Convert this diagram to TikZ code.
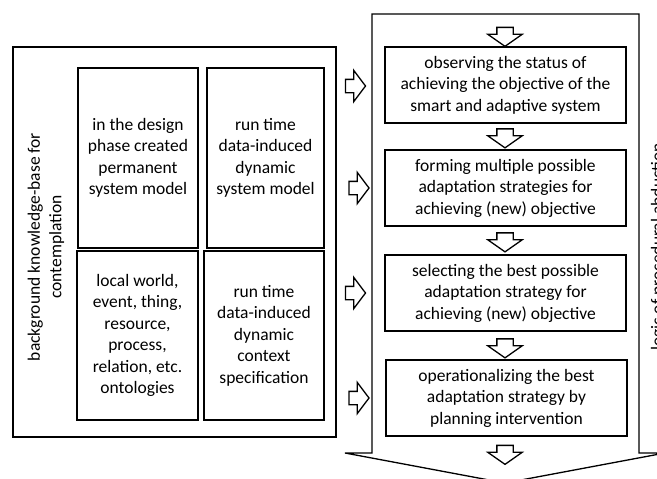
\documentclass[tikz,border=0pt]{standalone}
\usepackage{fontspec}
\setmainfont{Carlito}
\usetikzlibrary{shapes.arrows}

\tikzstyle{box}=[draw,line width=1.7pt,align=center,inner sep=0pt]
\tikzstyle{hollow}=[single arrow,draw,fill=white,line width=1.3pt,inner xsep=0pt,single arrow head extend=9pt,minimum height=#1]
\newcommand{\sidearrow}[2]{\node[hollow=20pt,inner ysep=6pt,single arrow tip angle=106] (#1) at (#2) {};}
\newcommand{\flowarrow}[2]{\node[hollow=19pt,inner ysep=7.5pt,single arrow tip angle=110,rotate=-90] (#1) at (#2) {};}
\tikzset{
	every node/.style={font=\fontsize{17.5}{21.5}\selectfont},
}

\begin{document}
\begin{tikzpicture}[x=1pt,y=-1pt]
    \clip (0,0) rectangle (657,479);

    % knowledge base
    \node[box,line width=1.3pt,minimum width=323pt,minimum height=390pt] (kb) at (174.5,242) {};
    \node[rotate=90,align=center] (kblabel) at (46,247) {background knowledge-base for\\contemplation};
    \node[box,minimum width=120pt,minimum height=180pt] (design) at (138,158) {in the design\\phase created\\permanent\\system model};
    \node[box,minimum width=117pt,minimum height=180pt] (sysmodel) at (265.5,158) {run time\\data-induced\\dynamic\\system model};
    \node[box,minimum width=121pt,minimum height=169pt] (onto) at (137.5,335.5) {local world,\\event, thing,\\resource,\\process,\\relation, etc.\\ontologies};
    \node[box,minimum width=120pt,minimum height=169pt] (context) at (264,335.5) {run time\\data-induced\\dynamic\\context\\specification};

    % procedural abduction
    \draw[line width=1.3pt,fill=white] (372,14) -- (639,14) -- (639,453) -- (665,453) -- (505,483) -- (345,453) -- (372,453) -- cycle;
    \node[rotate=90,anchor=base] (logic) at (663,247) {logic of procedural abduction};
    \node[box,minimum width=241pt,minimum height=76pt] (observe) at (505.5,85) {observing the status of\\achieving the objective of the\\smart and adaptive system};
    \node[box,minimum width=241pt,minimum height=76pt] (form) at (505.5,188) {forming multiple possible\\adaptation strategies for\\achieving (new) objective};
    \node[box,minimum width=241pt,minimum height=76pt] (select) at (505.5,293) {selecting the best possible\\adaptation strategy for\\achieving (new) objective};
    \node[box,minimum width=241pt,minimum height=76pt] (operate) at (506.5,398) {operationalizing the best\\adaptation strategy by\\planning intervention};

    \flowarrow{f0}{505,34}
    \flowarrow{f1}{505,135.5}
    \flowarrow{f2}{505,239.5}
    \flowarrow{f3}{505,345.5}
    \flowarrow{f4}{505,452}

    \sidearrow{s1}{353,86}
    \sidearrow{s2}{356.5,188}
    \sidearrow{s3}{353,293}
    \sidearrow{s4}{356.5,398}
\end{tikzpicture}
\end{document}
